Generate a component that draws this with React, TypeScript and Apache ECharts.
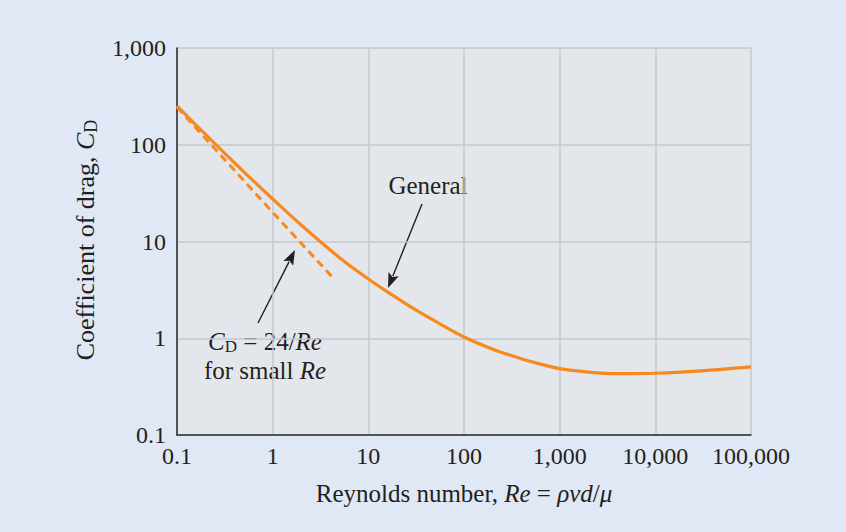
import React, { useEffect, useRef } from "react";
import * as echarts from "echarts";

const reGeneral = [0.1, 0.2, 0.5, 1, 2, 5, 10, 16, 31.6, 50, 100, 200, 316, 500, 1000, 2000, 4000, 10000, 30000, 100000];
const cdGeneral = [252, 127, 52.5, 27.5, 14.7, 6.8, 4.1, 3.0, 1.95, 1.5, 1.03, 0.77, 0.66, 0.575, 0.485, 0.447, 0.43, 0.435, 0.46, 0.505];

const reSmall = [0.1, 1, 4.2];
const cdSmall = [245, 20, 4.3];

const FONT = "'Liberation Serif', 'Times New Roman', serif";
const TEXT = "#231f20";
const ORANGE = "#f7891f";
const TICK_SIZE = 24;
const TITLE_SIZE = 25;

function fmt(v: number): string {
  if (v < 1) return String(Number(v.toPrecision(3)));
  return Math.round(v).toLocaleString("en-US");
}

function arrow(tail: [number, number], tip: [number, number]) {
  const dx = tip[0] - tail[0];
  const dy = tip[1] - tail[1];
  const len = Math.sqrt(dx * dx + dy * dy);
  const ux = dx / len, uy = dy / len;
  const hl = 15, hw = 5.5;
  const bx = tip[0] - ux * hl, by = tip[1] - uy * hl;
  const px = -uy, py = ux;
  return [
    {
      type: "line",
      shape: { x1: tail[0], y1: tail[1], x2: bx + ux * 2, y2: by + uy * 2 },
      style: { stroke: TEXT, lineWidth: 1.4 },
      silent: true,
    },
    {
      type: "polygon",
      shape: {
        points: [
          [tip[0], tip[1]],
          [bx + px * hw, by + py * hw],
          [bx + ux * 3, by + uy * 3],
          [bx - px * hw, by - py * hw],
        ],
      },
      style: { fill: TEXT },
      silent: true,
    },
  ];
}

function label(x: number, y: number, text: string, size = TITLE_SIZE, rotation = 0) {
  return {
    type: "text",
    x,
    y,
    rotation,
    style: {
      text,
      fill: TEXT,
      fontFamily: FONT,
      fontSize: size,
      align: "center",
      verticalAlign: "middle",
      rich: {
        i: { fontFamily: FONT, fontSize: size, fontStyle: "italic", fill: TEXT },
        s: { fontFamily: FONT, fontSize: Math.round(size * 0.68), fill: TEXT, padding: [Math.round(size * 0.42), 0, 0, 0] },
      },
    },
  };
}

export default function App() {
  const ref = useRef<HTMLDivElement>(null);
  useEffect(() => {
    document.body.style.margin = "0";
    const chart = echarts.init(ref.current!, undefined, { renderer: "svg" });
    const axisLabel = { color: TEXT, fontFamily: FONT, fontSize: TICK_SIZE, formatter: (v: number) => fmt(v) };
    chart.setOption({
      animation: false,
      backgroundColor: "#e1e8f5",
      textStyle: { fontFamily: FONT },
      grid: {
        left: 177,
        right: 95,
        top: 48,
        bottom: 97,
        show: true,
        backgroundColor: "#e3e7eb",
        borderWidth: 0,
      },
      xAxis: {
        type: "log",
        logBase: 10,
        min: 0.1,
        max: 100000,
        splitNumber: 6,
        axisLine: { show: true, onZero: false, lineStyle: { color: "#2a2a2a", width: 1.5 } },
        axisTick: { show: false },
        axisLabel: { ...axisLabel, margin: 9 },
        splitLine: { show: true, lineStyle: { color: "#c6c8ca", width: 1.5 } },
      },
      yAxis: {
        type: "log",
        logBase: 10,
        min: 0.1,
        max: 1000,
        splitNumber: 4,
        axisLine: { show: true, onZero: false, lineStyle: { color: "#2a2a2a", width: 1.5 } },
        axisTick: { show: false },
        axisLabel: { ...axisLabel, margin: 11 },
        splitLine: { show: true, lineStyle: { color: "#c6c8ca", width: 1.5 } },
      },
      series: [
        {
          name: "CD = 24/Re",
          type: "line",
          data: reSmall.map((r, i) => [r, cdSmall[i]]),
          showSymbol: false,
          lineStyle: { color: ORANGE, width: 3, type: [8, 5] },
          z: 3,
        },
        {
          name: "General",
          type: "line",
          smooth: 0.3,
          data: reGeneral.map((r, i) => [r, cdGeneral[i]]),
          showSymbol: false,
          lineStyle: { color: ORANGE, width: 3.2 },
          z: 4,
        },
      ],
      graphic: [
        label(85, 240, "Coefficient of drag, {i|C}{s|D}", 26, Math.PI / 2),
        label(464, 493, "Reynolds number, {i|Re} = {i|ρvd}/{i|μ}"),
        label(428, 185, "General"),
        label(265, 341, "{i|C}{s|D} = 24/{i|Re}"),
        label(265, 370, "for small {i|Re}"),
        ...arrow([422, 204], [388, 288]),
        ...arrow([258, 323], [295, 250]),
      ],
    });
    return () => chart.dispose();
  }, []);
  return <div ref={ref} style={{ position: "fixed", left: 0, top: 0, width: 846, height: 532 }} />;
}
